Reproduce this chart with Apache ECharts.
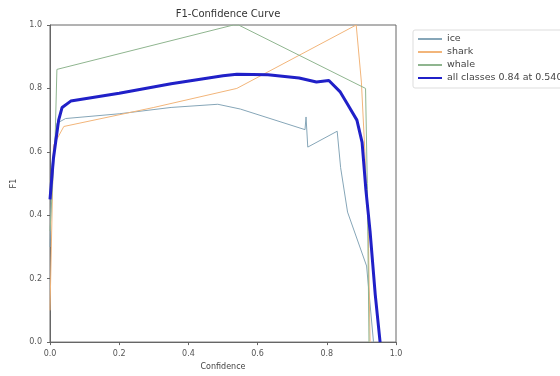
<!DOCTYPE html>
<html>
<head>
<meta charset="utf-8">
<script src="https://cdn.jsdelivr.net/npm/echarts@6/dist/echarts.min.js"></script>
<style>
  html, body { margin: 0; padding: 0; background: #fff; }
  #chart { width: 560px; height: 376px; }
</style>
</head>
<body>
<div id="chart"></div>
<script>
// [confidence, F1] pairs
const ice = [[0, 0.30], [0.005, 0.55], [0.02, 0.69], [0.045, 0.705], [0.2, 0.72], [0.35, 0.74], [0.485, 0.75],
  [0.55, 0.735], [0.737, 0.67], [0.74, 0.71], [0.745, 0.615], [0.83, 0.665], [0.84, 0.55], [0.86, 0.41],
  [0.915, 0.24], [0.935, 0]]
const shark = [[0, 0.10], [0.01, 0.62], [0.04, 0.68], [0.3, 0.74], [0.54, 0.80], [0.885, 1.0], [0.9, 0.82],
  [0.91, 0.6], [0.92, 0.35], [0.925, 0]]
const whale = [[0, 0.35], [0.015, 0.65], [0.02, 0.86], [0.53, 1.0], [0.545, 1.0], [0.912, 0.80], [0.917, 0.5], [0.922, 0]]
const allClasses = [[0, 0.45], [0.01, 0.58], [0.025, 0.70], [0.035, 0.74], [0.06, 0.76], [0.2, 0.785], [0.35, 0.815],
  [0.5, 0.84], [0.54, 0.845], [0.63, 0.843], [0.72, 0.833], [0.77, 0.82], [0.806, 0.825], [0.838, 0.79],
  [0.86, 0.75], [0.887, 0.70], [0.902, 0.63], [0.913, 0.48], [0.925, 0.35], [0.94, 0.15], [0.954, 0]]
const seriesNames = ['ice', 'shark', 'whale', 'all classes 0.84 at 0.540']
const seriesColors = ['#86a6b8', '#f2b57a', '#8fb58f', '#2020c8']

const font = 'DejaVu Sans'
const chart = echarts.init(document.getElementById('chart'))

const lines = [ice, shark, whale, allClasses].map((data, i) => ({
  name: seriesNames[i],
  type: 'line',
  data,
  symbol: 'none',
  z: i === 3 ? 5 : 2,
  lineStyle: { color: seriesColors[i], width: i === 3 ? 3 : 1 },
  itemStyle: { color: seriesColors[i] }
}))

const axisCommon = {
  type: 'value',
  min: 0,
  max: 1,
  interval: 0.2,
  nameLocation: 'middle',
  nameTextStyle: { fontFamily: font, fontSize: 8, color: '#444' },
  axisLine: { show: true, lineStyle: { color: '#666', width: 1 } },
  axisTick: { show: true, inside: false, length: 3, lineStyle: { color: '#666' } },
  axisLabel: { fontFamily: font, fontSize: 8, color: '#555', formatter: v => v.toFixed(1) },
  splitLine: { show: false }
}

chart.setOption({
  animation: false,
  title: {
    text: 'F1-Confidence Curve',
    left: 223,
    textAlign: 'center',
    top: 4,
    textStyle: { fontFamily: font, fontSize: 10, fontWeight: 'normal', color: '#333' }
  },
  grid: { left: 50, right: 164, top: 25, bottom: 30, show: true, borderColor: '#666', borderWidth: 1 },
  legend: {
    data: seriesNames,
    orient: 'vertical',
    left: 413,
    top: 30,
    itemWidth: 24,
    itemHeight: 8,
    itemGap: 3,
    padding: [4, 6, 5, 4],
    borderColor: '#ddd',
    borderWidth: 1,
    borderRadius: 2,
    itemStyle: { opacity: 0 },
    textStyle: { fontFamily: font, fontSize: 9.5, color: '#444' }
  },
  xAxis: { ...axisCommon, name: 'Confidence', nameGap: 17 },
  yAxis: { ...axisCommon, name: 'F1', nameGap: 22 },
  series: lines
})
</script>
</body>
</html>
